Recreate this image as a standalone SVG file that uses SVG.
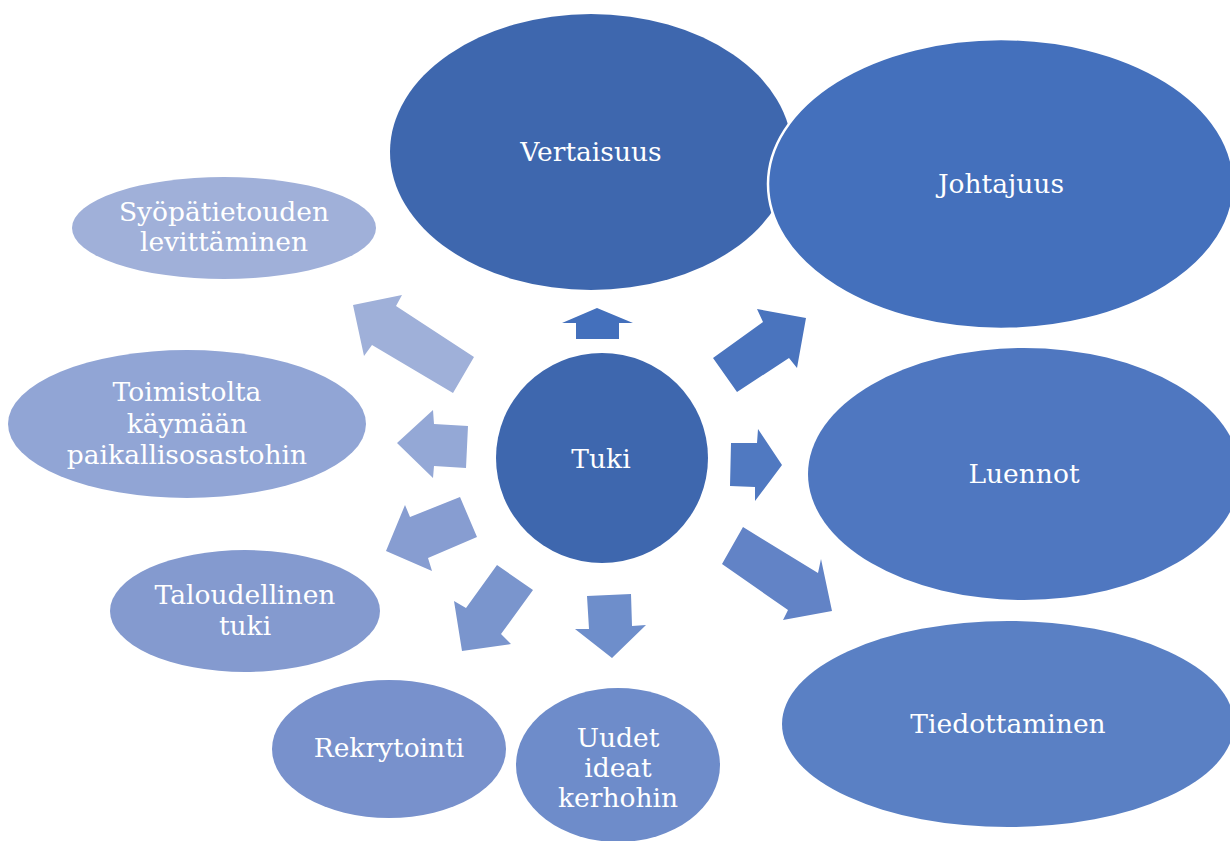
<svg xmlns="http://www.w3.org/2000/svg" width="1230" height="841" viewBox="0 0 1230 841">
<style>
.t{font-family:"DejaVu Serif","Liberation Serif",serif;font-size:26.5px;fill:#ffffff;text-anchor:middle}
</style>
<rect width="1230" height="841" fill="#ffffff"/>
<g id="connectors">
<polygon fill="#4470BC" points="597,308 633,323 619,323 619,339 576,339 576,323 562,323"/>
<polygon fill="#4A74BE" points="713,358 763,322 757,309 806,318 797,368 789,358 737,392"/>
<polygon fill="#5079C1" points="731,443 757,443 758,429 782,465 755,501 755,487 730,486"/>
<polygon fill="#6283C6" points="743,527 818,573 821,559 832,611 783,620 788,610 722,564"/>
<polygon fill="#6E8ECB" points="587,596 631,594 632,626 646,625 612,658 575,629 589,629"/>
<polygon fill="#7A95CD" points="497,565 533,590 501,634 511,644 462,651 454,601 466,608"/>
<polygon fill="#879DD1" points="460,497 477,537 428,558 432,571 386,551 405,505 410,517"/>
<polygon fill="#94A8D6" points="468,426 466,468 434,466 433,478 397,443 433,410 434,424"/>
<polygon fill="#9FB0D9" points="474,357 453,393 372,345 364,356 353,305 402,295 396,306"/>
</g>
<g id="vertaisuus"><ellipse cx="591" cy="152" rx="201" ry="138" fill="#3E67AE"/><text class="t" x="591" y="161">Vertaisuus</text></g>
<g id="johtajuus"><ellipse cx="1001" cy="184" rx="233" ry="145" fill="#4470BC" stroke="#ffffff" stroke-width="2.5"/><text class="t" x="1001" y="193">Johtajuus</text></g>
<g id="tuki"><ellipse cx="602" cy="458" rx="106" ry="105" fill="#3E67AE"/><text class="t" x="601" y="468">Tuki</text></g>
<g id="luennot"><ellipse cx="1024" cy="474" rx="216" ry="126" fill="#4F77C0"/><text class="t" x="1024" y="483">Luennot</text></g>
<g id="tiedottaminen"><ellipse cx="1008" cy="724" rx="226" ry="103" fill="#5A80C4"/><text class="t" x="1008" y="733">Tiedottaminen</text></g>
<g id="uudet"><ellipse cx="618" cy="765" rx="102" ry="77" fill="#6E8CCA"/><text class="t" x="618" y="747">Uudet</text><text class="t" x="618" y="777">ideat</text><text class="t" x="618" y="807">kerhohin</text></g>
<g id="rekrytointi"><ellipse cx="389" cy="749" rx="117" ry="69" fill="#7891CC"/><text class="t" x="389" y="757">Rekrytointi</text></g>
<g id="taloudellinen"><ellipse cx="245" cy="611" rx="135" ry="61" fill="#849ACF"/><text class="t" x="245" y="604">Taloudellinen</text><text class="t" x="245" y="635">tuki</text></g>
<g id="toimistolta"><ellipse cx="187" cy="424" rx="179" ry="74" fill="#91A5D5"/><text class="t" x="187" y="401">Toimistolta</text><text class="t" x="187" y="433">käymään</text><text class="t" x="187" y="464">paikallisosastohin</text></g>
<g id="syopatietouden"><ellipse cx="224" cy="228" rx="152" ry="51" fill="#A0B0D9"/><text class="t" x="224" y="221">Syöpätietouden</text><text class="t" x="224" y="251">levittäminen</text></g>
</svg>
